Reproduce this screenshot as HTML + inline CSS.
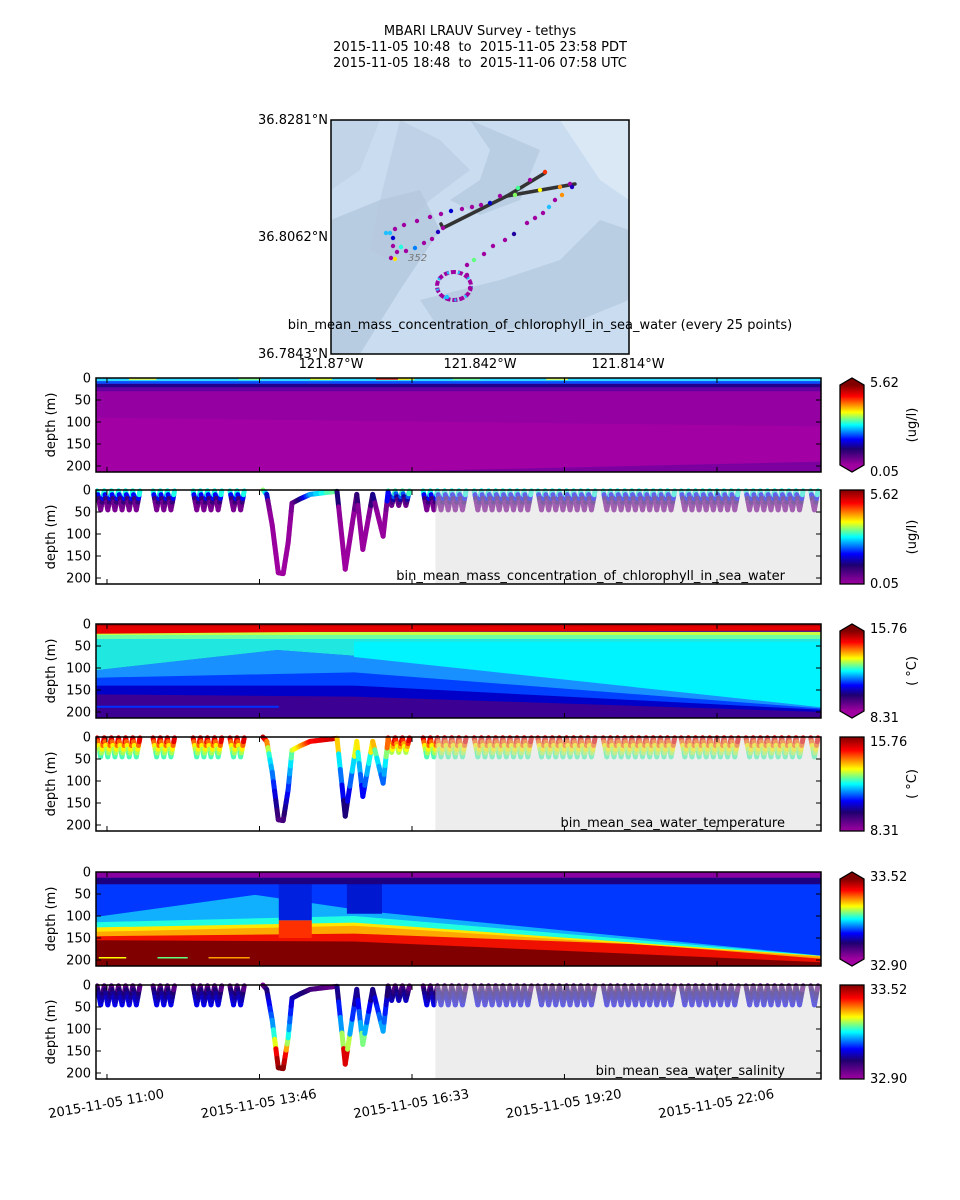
<!DOCTYPE html>
<html><head><meta charset="utf-8">
<style>
body{margin:0;background:#fff;}
svg{display:block;font-family:"DejaVu Sans","Liberation Sans",sans-serif;}
</style></head>
<body>
<svg id="fig" width="960" height="1200" viewBox="0 0 960 1200" xmlns="http://www.w3.org/2000/svg">
<defs>
<linearGradient id="cmapV" x1="0" y1="1" x2="0" y2="0">
<stop offset="0" stop-color="#a000a0"/><stop offset="0.2" stop-color="#1e0070"/><stop offset="0.32" stop-color="#0000ff"/><stop offset="0.5" stop-color="#00ffff"/><stop offset="0.66" stop-color="#ffff00"/><stop offset="0.76" stop-color="#ff8000"/><stop offset="0.86" stop-color="#ff0000"/><stop offset="1" stop-color="#800000"/>
</linearGradient>
</defs>
<g font-size="13" text-anchor="middle" fill="#000">
<text x="480" y="35">MBARI LRAUV Survey - tethys</text>
<text x="480" y="51">2015-11-05 10:48&#160;&#160;to&#160;&#160;2015-11-05 23:58 PDT</text>
<text x="480" y="67">2015-11-05 18:48&#160;&#160;to&#160;&#160;2015-11-06 07:58 UTC</text>
</g>
<g id="map">
<rect x="331" y="120" width="298" height="234" fill="#c9dcf0"/>
<path d="M331 220 L380 200 L420 190 L440 230 L400 290 L360 354 L331 354Z" fill="#a3b8cf" opacity="0.45"/>
<path d="M400 120 L440 140 L470 170 L430 200 L400 230 L390 260 L370 250 L380 200 L390 160Z" fill="#b3c6db" opacity="0.5"/>
<path d="M470 120 L540 150 L520 200 L480 215 L450 200 L480 180 L490 150Z" fill="#a9bdd3" opacity="0.45"/>
<path d="M420 300 L500 280 L560 260 L600 220 L629 230 L629 300 L580 320 L500 330 L440 330Z" fill="#a7bcd3" opacity="0.45"/>
<path d="M560 120 L629 120 L629 200 L600 180 L580 150Z" fill="#dce9f6" opacity="0.9"/>
<path d="M331 120 L380 120 L360 170 L331 190Z" fill="#b9cce0" opacity="0.5"/>
<g stroke="#333" stroke-width="3.5" fill="none" stroke-linecap="round">
<polyline points="443,228 507,196 545,173"/><polyline points="507,196 575,184"/><polyline points="441,224 443,228"/>
</g>
<ellipse cx="454" cy="286" rx="17" ry="14" fill="none" stroke="#a000a0" stroke-width="4" stroke-dasharray="5 2"/>
<ellipse cx="454" cy="286" rx="17" ry="14" fill="none" stroke="#20c0ff" stroke-width="3" stroke-dasharray="2 9"/>
<g id="mapdots"></g>
<text x="408" y="261" font-size="10" font-style="italic" fill="#777">352</text>
<rect x="331" y="120" width="298" height="234" fill="none" stroke="#000" stroke-width="1.5"/>
</g>
<g font-size="13" fill="#000">
<text x="328" y="124" text-anchor="end">36.8281°N</text>
<text x="328" y="241" text-anchor="end">36.8062°N</text>
<text x="328" y="358" text-anchor="end">36.7843°N</text>
<text x="331" y="368" text-anchor="middle">121.87°W</text>
<text x="480" y="368" text-anchor="middle">121.842°W</text>
<text x="628" y="368" text-anchor="middle">121.814°W</text>
<text x="540" y="329" text-anchor="middle">bin_mean_mass_concentration_of_chlorophyll_in_sea_water (every 25 points)</text>
</g>
<g id="panels"></g>
</svg>
<script>
// ---- data ----
var tickLabels = ["2015-11-05 11:00","2015-11-05 13:46","2015-11-05 16:33","2015-11-05 19:20","2015-11-05 22:06"];
var tickHours = [0.2, 2.978, 5.756, 8.533, 11.311];
var depthTicks = [0, 50, 100, 150, 200];
// yo-yo groups: [startHour, endHour, maxDepth]
var yoyoGroups = [[0.02,0.80,45],[1.04,1.48,45],[1.77,2.31,45],[2.44,2.75,45],[5.32,5.72,35],[5.96,6.78,45],[6.89,7.96,45],[8.05,9.14,45],[9.24,10.56,45],[10.66,11.75,45],[11.84,12.93,45],[13.02,13.21,45]];
// deep dive keypoints
var diveHours = [3.04,3.11,3.21,3.32,3.41,3.50,3.57,3.72,3.90,4.39,4.54,4.75,4.86,5.04,5.23,5.32];
var diveDepths = [0,10,80,188,190,120,30,20,10,3,180,10,135,10,105,5];
var colorbarMin = ["0.05","8.31","32.90"];
var colorbarMax = ["5.62","15.76","33.52"];
var units = ["(ug/l)","( \u00b0C)",""];
var panelTitles = ["bin_mean_mass_concentration_of_chlorophyll_in_sea_water","bin_mean_sea_water_temperature","bin_mean_sea_water_salinity"];
// depth -> normalized value profiles for track colouring
var chlDepth=[0,5,10,18,28,60,200], chlVal=[0.6,0.55,0.42,0.25,0.08,0.02,0.0];
var tempDepth=[0,10,22,40,50,100,150,190], tempVal=[0.95,0.85,0.68,0.55,0.5,0.38,0.25,0.12];
var salDepth=[0,15,40,100,135,150,190], salVal=[0.05,0.2,0.3,0.45,0.65,0.85,1.0];

// ---- helpers ----
var NS="http://www.w3.org/2000/svg";
var X0=96, X1=821, PXH=54.9, DY=0.44;
function X(h){return X0+h*PXH;}
function mk(tag,attrs,parent){var e=document.createElementNS(NS,tag);for(var k in attrs)e.setAttribute(k,attrs[k]);if(parent)parent.appendChild(e);return e;}
var stops=[[0,[160,0,160]],[0.2,[30,0,112]],[0.32,[0,0,255]],[0.5,[0,255,255]],[0.66,[255,255,0]],[0.76,[255,128,0]],[0.86,[255,0,0]],[1,[128,0,0]]];
function cmap(v){v=Math.max(0,Math.min(1,v));for(var i=1;i<stops.length;i++){if(v<=stops[i][0]){var a=stops[i-1],b=stops[i],t=(v-a[0])/(b[0]-a[0]);return 'rgb('+[0,1,2].map(function(j){return Math.round(a[1][j]+(b[1][j]-a[1][j])*t);}).join(',')+')';}}return 'rgb(128,0,0)';}
function interp(xs,ys,x){if(x<=xs[0])return ys[0];for(var i=1;i<xs.length;i++){if(x<=xs[i]){var t=(x-xs[i-1])/(xs[i]-xs[i-1]);return ys[i-1]+(ys[i]-ys[i-1])*t;}}return ys[ys.length-1];}

var panels=document.getElementById('panels');

function axesFrame(top,name){
  var g=mk('g',{},panels);
  
  
  mk('rect',{x:X0,y:top,width:X1-X0,height:94,fill:'none',stroke:'#000','stroke-width':1.5},g);
  depthTicks.forEach(function(d){
    var y=top+d*DY;
    mk('line',{x1:X0,x2:X0+5,y1:y,y2:y,stroke:'#000'},g);
    mk('line',{x1:X1-5,x2:X1,y1:y,y2:y,stroke:'#000'},g);
    var t=mk('text',{x:91,y:y+4.5,'text-anchor':'end','font-size':13},g);t.textContent=d;
  });
  tickHours.forEach(function(h){var x=X(h);mk('line',{x1:x,x2:x,y1:top+94,y2:top+89,stroke:'#000'},g);mk('line',{x1:x,x2:x,y1:top,y2:top+5,stroke:'#000'},g);});
  var yl=mk('text',{x:0,y:0,transform:'translate(55,'+(top+47)+') rotate(-90)','text-anchor':'middle','font-size':13},g);
  yl.textContent='depth (m)';
  
  
}
function poly(g,top,pts,fill){
  var s=pts.map(function(p){return X(p[0]).toFixed(1)+','+(top+Math.min(p[1],213.6)*DY).toFixed(1);}).join(' ');
  return mk('polygon',{points:s,fill:fill},g);
}
function band(g,top,upper,lower,fill){
  var pts=upper.concat(lower.slice().reverse());return poly(g,top,pts,fill);
}
var FULL=13.21, BOT=213.6;
function flat(d){return [[0,d],[FULL,d]];}

function colorbar(top,i,extend,name){
  var g=mk('g',{},panels);
  
  
  var x=840,w=24,y0=top,y1=top+94;
  if(extend){
    mk('rect',{x:x,y:y0+7,width:w,height:94-14,fill:'url(#cmapV)'},g);
    mk('polygon',{points:x+','+(y0+7)+' '+(x+w/2)+','+y0+' '+(x+w)+','+(y0+7),fill:'#800000'},g);
    mk('polygon',{points:x+','+(y1-7)+' '+(x+w/2)+','+y1+' '+(x+w)+','+(y1-7),fill:'#a000a0'},g);
    mk('polygon',{points:x+','+(y0+7)+' '+(x+w/2)+','+y0+' '+(x+w)+','+(y0+7)+' '+(x+w)+','+(y1-7)+' '+(x+w/2)+','+y1+' '+x+','+(y1-7),fill:'none',stroke:'#000','stroke-width':1.3},g);
  } else {
    mk('rect',{x:x,y:y0,width:w,height:94,fill:'url(#cmapV)',stroke:'#000','stroke-width':1.3},g);
  }
  var a=mk('text',{x:870,y:y0+9,'font-size':13},g);a.textContent=colorbarMax[i];
  var b=mk('text',{x:870,y:y1+4,'font-size':13},g);b.textContent=colorbarMin[i];
  if(units[i]){var u=mk('text',{x:0,y:0,transform:'translate(916,'+(top+47)+') rotate(-90)','text-anchor':'middle','font-size':13},g);u.textContent=units[i];}
}

function trackSegments(){
  var segs=[];
  yoyoGroups.forEach(function(gr){
    var pts=[],h=gr[0],up=true;
    while(h<=gr[1]+1e-6){pts.push([h,up?2:gr[2]]);up=!up;h+=0.065;}
    segs.push(pts);
  });
  var dv=[];for(var i=0;i<diveHours.length;i++)dv.push([diveHours[i],diveDepths[i]]);
  segs.push(dv);
  return segs;
}
function drawTrack(top,profD,profV,name,labelIdx){
  var g=mk('g',{},panels);
  
  
  trackSegments().forEach(function(pts){
    for(var i=1;i<pts.length;i++){
      var a=pts[i-1],b=pts[i];
      for(var k=0;k<5;k++){
        var t0=k/5,t1=(k+1)/5;
        var h0=a[0]+(b[0]-a[0])*t0,d0=a[1]+(b[1]-a[1])*t0,h1=a[0]+(b[0]-a[0])*t1,d1=a[1]+(b[1]-a[1])*t1;
        mk('line',{x1:X(h0),y1:top+d0*DY,x2:X(h1),y2:top+d1*DY,stroke:cmap(interp(profD,profV,(d0+d1)/2)),'stroke-width':5,'stroke-linecap':'round'},g);
      }
    }
  });
  mk('rect',{x:X(6.2)-1,y:top,width:X1-X(6.2)+1,height:94,fill:'#d8d8d8',opacity:0.45},g);
  mk('rect',{x:X1,y:top-4,width:12,height:102,fill:'#fff'},g);
  mk('rect',{x:X0-12,y:top-4,width:12,height:102,fill:'#fff'},g);
  var t=mk('text',{x:785,y:top+90,'text-anchor':'end','font-size':13},g);t.textContent=panelTitles[labelIdx];
}

// ---- panel 1: chlorophyll section ----
(function(){
  var top=378,g=mk('g',{},panels);
  
  
  band(g,top,flat(0),flat(BOT),'#a200a4');
  band(g,top,flat(25),[[0,90],[FULL,110]],'#9400a2');
  poly(g,top,[[5,BOT],[FULL,190],[FULL,BOT]],'#7c00a0');
  band(g,top,flat(20),flat(30),'#6400a2');
  band(g,top,flat(13),flat(21),'#22008a');
  band(g,top,flat(7),flat(13),'#0050ff');
  band(g,top,flat(0),flat(7),'#30d8ff');
  var blips=[[0.6,0.5,'#ffff30'],[2.6,0.4,'#90ff70'],[3.9,0.4,'#ffff00'],[5.1,0.6,'#ff2000'],[5.5,0.3,'#ffff00'],[6.5,0.5,'#80ff80'],[8.2,0.4,'#ffff40']];
  blips.forEach(function(b){band(g,top,[[b[0],0],[b[0]+b[1],0]],[[b[0],4],[b[0]+b[1],4]],b[2]);});
  axesFrame(top,'chlorophyll-section');
  colorbar(top,0,true,'chlorophyll-section-colorbar');
})();
(function(){var top=490;drawTrack(top,chlDepth,chlVal,'chlorophyll-track',0);axesFrame(top,'chlorophyll-profile');colorbar(top,0,false,'chlorophyll-profile-colorbar');})();
// ---- panel 3: temperature section ----
(function(){
  var top=624,g=mk('g',{},panels);
  
  
  band(g,top,flat(0),flat(BOT),'#3c0092');
  var diag=[[0,105],[3.3,59],[5.0,75],[FULL,189]];
  band(g,top,diag,[[0,160],[4.7,165],[FULL,200]],'#0000c8');
  band(g,top,diag,[[0,140],[4.7,140],[FULL,195]],'#0040ff');
  band(g,top,diag,[[0,122],[4.7,110],[FULL,192]],'#1890ff');
  band(g,top,[[0,30],[FULL,30]],diag,'#20e8e0');
  band(g,top,[[4.7,40],[FULL,40]],[[4.7,75],[FULL,189]],'#00f4ff');
  band(g,top,flat(18),flat(32),'#c8ff40');
  band(g,top,flat(25),flat(34),'#70ffa0');
  band(g,top,flat(0),[[0,22],[4,18],[FULL,15]],'#e80000');
  band(g,top,flat(0),flat(5),'#b80000');
  mk('line',{x1:X0,x2:X(3.33),y1:top+188*DY,y2:top+188*DY,stroke:'#0030ff','stroke-width':2},g);
  axesFrame(top,'temperature-section');
  colorbar(top,1,true,'temperature-section-colorbar');
})();
(function(){var top=737;drawTrack(top,tempDepth,tempVal,'temperature-track',1);axesFrame(top,'temperature-profile');colorbar(top,1,false,'temperature-profile-colorbar');})();
// ---- panel 5: salinity section ----
(function(){
  var top=872,g=mk('g',{},panels);
  
  
  band(g,top,flat(0),flat(BOT),'#800000');
  var diag=[[0,102],[2.9,52],[5.0,90],[FULL,190]];
  band(g,top,flat(0),[[0,155],[4.7,158],[FULL,205]],'#f01000');
  band(g,top,flat(0),[[0,146],[4.7,140],[10,165],[FULL,197]],'#ffa800');
  band(g,top,flat(0),[[0,136],[4.7,122],[FULL,192]],'#ffe800');
  band(g,top,flat(0),[[0,126],[4.7,115],[FULL,191]],'#20ffe0');
  band(g,top,flat(0),[[0,114],[4.7,100],[FULL,190]],'#10b0ff');
  band(g,top,flat(0),diag,'#0038ff');
  band(g,top,[[3.33,20],[3.93,20]],[[3.33,110],[3.93,110]],'#0020e0');
  band(g,top,[[3.33,110],[3.93,110]],[[3.33,150],[3.93,150]],'#ff3000');
  band(g,top,[[4.57,20],[5.21,20]],[[4.57,95],[5.21,95]],'#0018d0');
  band(g,top,flat(12),flat(28),'#1c0080');
  band(g,top,flat(0),flat(13),'#8800a0');
  [[0.05,0.5,'#ffff00'],[1.12,0.55,'#60ff80'],[2.05,0.75,'#ffa000']].forEach(function(s){
    mk('line',{x1:X(s[0]),x2:X(s[0]+s[1]),y1:top+195*DY,y2:top+195*DY,stroke:s[2],'stroke-width':1.5},g);});
  axesFrame(top,'salinity-section');
  colorbar(top,2,true,'salinity-section-colorbar');
})();
(function(){var top=985;drawTrack(top,salDepth,salVal,'salinity-track',2);axesFrame(top,'salinity-profile');colorbar(top,2,false,'salinity-profile-colorbar');})();
// x tick labels
(function(){
  var g=mk('g',{},panels);
  
  
  tickHours.forEach(function(h,i){
    var t=mk('text',{x:0,y:0,transform:'translate('+X(h)+',1108) rotate(-10)','text-anchor':'middle','font-size':13},g);
    t.textContent=tickLabels[i];
  });
})();
// map dots
(function(){
  var g=document.getElementById('mapdots');
  var dots=[[390,233,'#20c0ff'],[386,233,'#20c0ff'],[395,229,'#a000a0'],[404,225,'#a000a0'],[417,221,'#a000a0'],[430,217,'#a000a0'],[441,214,'#a000a0'],[451,211,'#0000d0'],[462,209,'#a000a0'],[472,207,'#a000a0'],[481,205,'#a000a0'],
  [393,238,'#0000d0'],[393,246,'#a000a0'],[397,252,'#a000a0'],[401,247,'#20ffe0'],[391,258,'#a000a0'],[395,259,'#ffe000'],[406,251,'#a000a0'],[415,248,'#0080ff'],[424,243,'#a000a0'],[432,239,'#a000a0'],[438,232,'#2000c0'],[443,228,'#a000a0'],
  [467,265,'#a000a0'],[474,260,'#60ff80'],[484,254,'#a000a0'],[493,246,'#a000a0'],[505,240,'#a000a0'],[514,234,'#2000a0'],[527,223,'#a000a0'],[535,218,'#a000a0'],[543,213,'#a000a0'],[549,207,'#20c0ff'],[555,200,'#a000a0'],[562,195,'#ff9000'],
  [545,172,'#ff3000'],[530,180,'#a000a0'],[518,188,'#40ff90'],[500,196,'#a000a0'],[490,203,'#0000d0'],[515,195,'#80ff60'],[540,190,'#ffff00'],[560,187,'#ff9000'],[570,184,'#a000a0'],[572,187,'#2000c0'],[467,275,'#a000a0'],[447,297,'#20c0ff'],[470,288,'#a000a0']];
  dots.forEach(function(d){mk('circle',{cx:d[0],cy:d[1],r:2.2,fill:d[2]},g);});
})();
</script>
</body></html>
